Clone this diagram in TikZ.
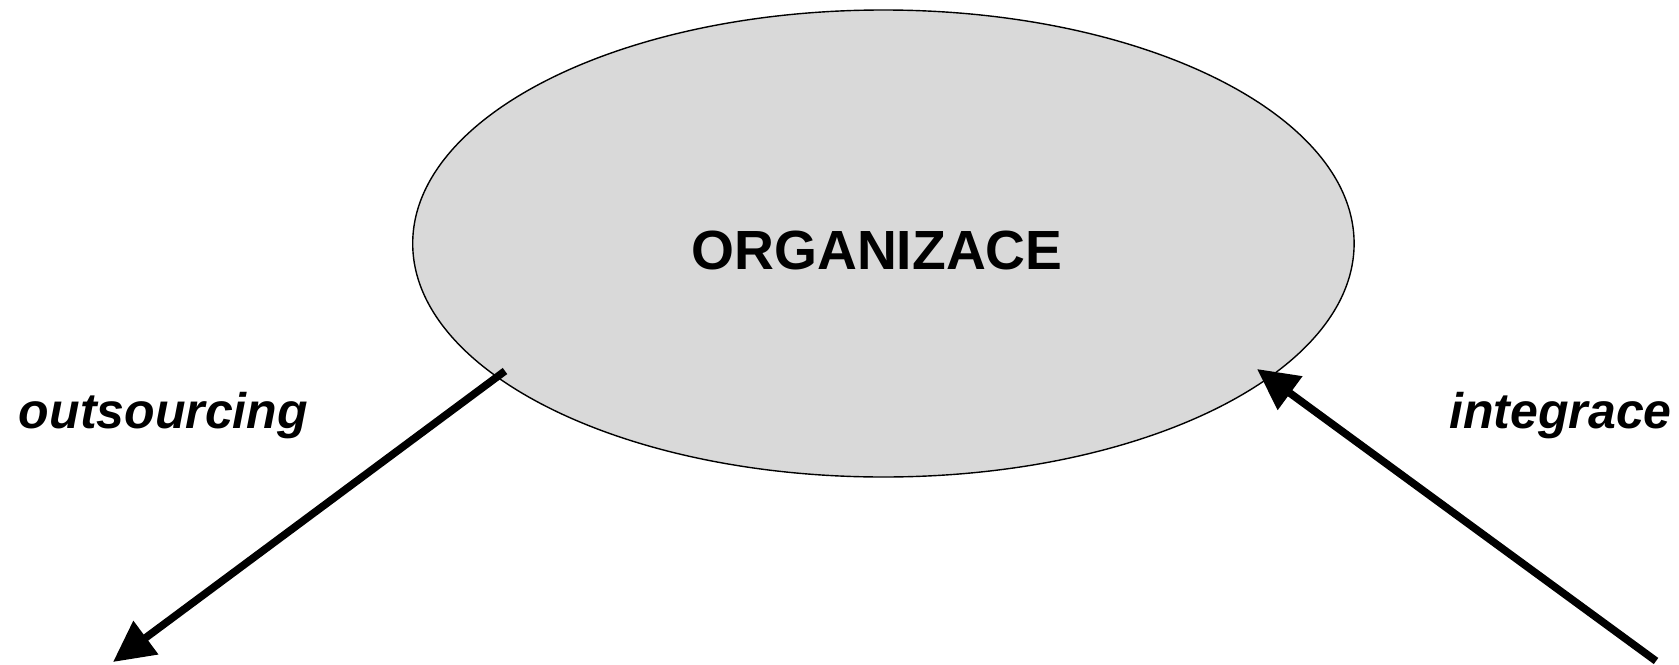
\documentclass[tikz,border=0pt]{standalone}
\usepackage{fontspec}
\setmainfont{Liberation Sans}
\usetikzlibrary{arrows.meta,shapes.geometric}
\definecolor{orgfill}{RGB}{217,217,217}
\tikzset{
  orgshape/.style={ellipse, draw=black, line width=0.7pt, fill=orgfill, inner sep=0pt},
  orgtitle/.style={font=\fontsize{27.6pt}{32pt}\selectfont\bfseries, inner sep=0pt},
  flowlabel/.style={font=\fontsize{25pt}{30pt}\selectfont\bfseries\itshape, inner sep=0pt},
  flowarrow/.style={line width=3.8pt, -{Triangle[length=20.5pt, width=20pt]}}
}
\begin{document}
\begin{tikzpicture}[x=0.5pt, y=-0.5pt]
  \useasboundingbox (0,0) rectangle (1679,664);
  \node[orgshape, minimum width=470.7pt, minimum height=233.5pt] (org) at (883.4,243.5) {};
  \node[orgtitle, anchor=base] (title) at (877,269) {ORGANIZACE};
  \coordinate (outS) at (505,371);
  \coordinate (outE) at (113,662);
  \coordinate (intS) at (1656,661);
  \coordinate (intE) at (1257,369);
  \draw[flowarrow] (outS) -- (outE);
  \draw[flowarrow] (intS) -- (intE);
  \node[flowlabel, anchor=base west] (outl) at (18.5,428) {outsourcing};
  \node[flowlabel, anchor=base east] (intl) at (1672,428) {integrace};
\end{tikzpicture}
\end{document}
